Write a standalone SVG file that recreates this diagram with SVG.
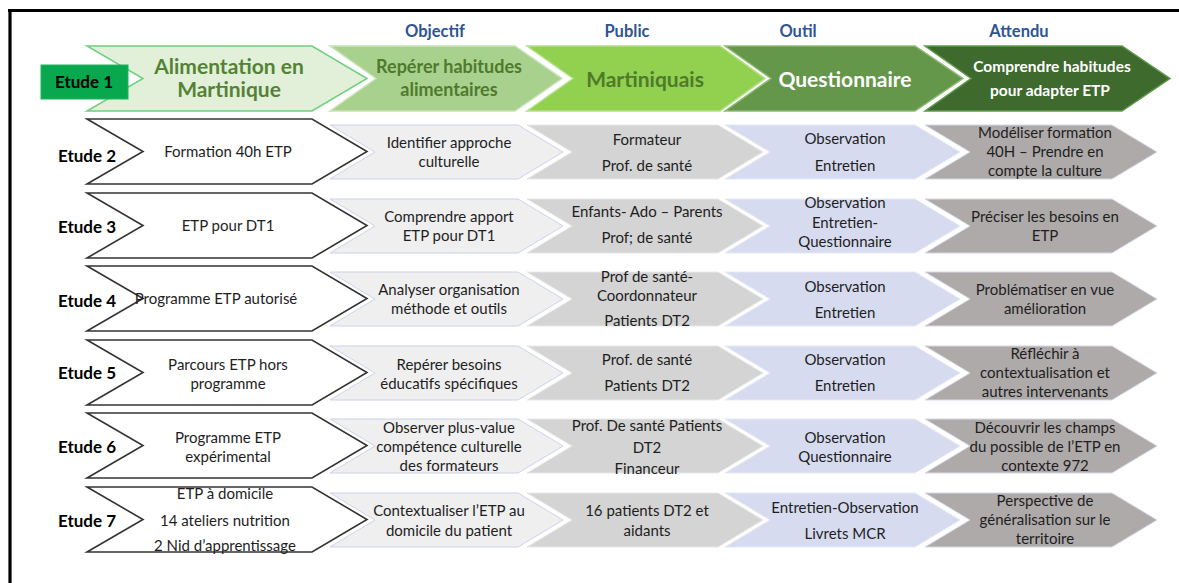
<svg xmlns="http://www.w3.org/2000/svg" width="1179" height="583" viewBox="0 0 1179 583">
<style>
text{font-family:Lato,"Liberation Sans",sans-serif;text-anchor:middle}
.hd{font-size:16.5px;font-weight:bold;fill:#2f5496}
.big{font-size:21px;font-weight:bold}
.et{font-size:17px;font-weight:bold;fill:#000}
.t{font-size:15px;fill:#1e1e1e}
.w{fill:#fff;stroke:#333;stroke-width:1.6}
.ob{fill:#efefef;stroke:#cdd3ea;stroke-width:1}
.pu{fill:#d4d4d4;stroke:#e8e8e8;stroke-width:1}
.ou{fill:#d6dbef;stroke:#e6e9f5;stroke-width:1}
.at{fill:#aeaaaa;stroke:#d6d8e6;stroke-width:1}
</style>
<rect width="1179" height="583" fill="#fff"/>
<g id="frame" stroke="#000" stroke-width="3.2" fill="none">
<line x1="8" y1="10.5" x2="1179" y2="10.5"/>
<line x1="10" y1="9" x2="10" y2="583"/>
</g>
<g id="headers">
<text class="hd" x="435" y="37">Objectif</text>
<text class="hd" x="627" y="37">Public</text>
<text class="hd" x="798" y="37">Outil</text>
<text class="hd" x="1019" y="37">Attendu</text>
</g>
<g id="etude1">
<polygon points="87,46 312,46 367,78.5 312,111 87,111 143,78.5" fill="#e2f0d9" stroke="#6fcf7f" stroke-width="1.5"/>
<text class="big" x="229" y="74" fill="#548235">Alimentation en</text>
<text class="big" x="229" y="97" fill="#548235">Martinique</text>
<rect x="41" y="65" width="87" height="34" fill="#07a84e" stroke="#19b75e" stroke-width="1"/>
<text class="et" x="84" y="88">Etude 1</text>
<polygon points="330,46 515,46 562,78.5 515,111 330,111 376,78.5" fill="#a9d18e" stroke="#c9e4b8" stroke-width="1.5"/>
<text x="449" y="73" font-size="18" font-weight="bold" fill="#4f7a2d">Repérer habitudes</text>
<text x="449" y="96" font-size="18" font-weight="bold" fill="#4f7a2d">alimentaires</text>
<polygon points="527,46 720,46 765,78.5 720,111 527,111 573,78.5" fill="#92d050" stroke="#b5e08a" stroke-width="1.5"/>
<text class="big" x="645" y="87" fill="#4e7a2a">Martiniquais</text>
<polygon points="725,46 915,46 963,78.5 915,111 725,111 771,78.5" fill="#64974a" stroke="#8dbb72" stroke-width="1.5"/>
<text class="big" x="845" y="87" fill="#fff">Questionnaire</text>
<polygon points="925,46 1122,46 1170,78.5 1122,111 925,111 971,78.5" fill="#3f6a2e" stroke="#5f9a4c" stroke-width="1.5"/>
<text x="1052" y="72" font-size="15.5" font-weight="bold" fill="#fff">Comprendre habitudes</text>
<text x="1050" y="96" font-size="15.5" font-weight="bold" fill="#fff">pour adapter ETP</text>
</g>
<g id="etude2">
<text class="et" x="87" y="162">Etude 2</text>
<polygon class="w" points="87,119 312,119 367,151.5 312,184 87,184 143,151.5"/>
<text class="t" x="228" y="157">Formation 40h ETP</text>
<polygon class="ob" points="330,125 518,125 563,152 518,179 330,179 375,152"/>
<text class="t" x="449" y="148">Identifier approche</text>
<text class="t" x="449" y="167">culturelle</text>
<polygon class="pu" points="527,125 718,125 763,152 718,179 527,179 572,152"/>
<text class="t" x="647" y="145">Formateur</text>
<text class="t" x="647" y="171">Prof. de santé</text>
<polygon class="ou" points="725,125 915,125 960,152 915,179 725,179 770,152"/>
<text class="t" x="845" y="144">Observation</text>
<text class="t" x="845" y="171">Entretien</text>
<polygon class="at" points="925,125 1112,125 1157,152 1112,179 925,179 970,152"/>
<text class="t" x="1045" y="138">Modéliser formation</text>
<text class="t" x="1045" y="157">40H – Prendre en</text>
<text class="t" x="1045" y="176">compte la culture</text>
</g>
<g id="etude3">
<text class="et" x="87" y="233">Etude 3</text>
<polygon class="w" points="87,193 312,193 367,225.5 312,258 87,258 143,225.5"/>
<text class="t" x="228" y="231">ETP pour DT1</text>
<polygon class="ob" points="330,199 518,199 563,226 518,253 330,253 375,226"/>
<text class="t" x="449" y="222">Comprendre apport</text>
<text class="t" x="449" y="241">ETP pour DT1</text>
<polygon class="pu" points="527,199 718,199 763,226 718,253 527,253 572,226"/>
<text class="t" x="647" y="217">Enfants- Ado – Parents</text>
<text class="t" x="647" y="243">Prof; de santé</text>
<polygon class="ou" points="725,199 915,199 960,226 915,253 725,253 770,226"/>
<text class="t" x="845" y="208">Observation</text>
<text class="t" x="845" y="228">Entretien-</text>
<text class="t" x="845" y="247">Questionnaire</text>
<polygon class="at" points="925,199 1112,199 1157,226 1112,253 925,253 970,226"/>
<text class="t" x="1045" y="222">Préciser les besoins en</text>
<text class="t" x="1045" y="241">ETP</text>
</g>
<g id="etude4">
<text class="et" x="87" y="307">Etude 4</text>
<polygon class="w" points="87,266 312,266 367,298.5 312,331 87,331 143,298.5"/>
<text class="t" x="216" y="304">Programme ETP autorisé</text>
<polygon class="ob" points="330,272 518,272 563,299 518,326 330,326 375,299"/>
<text class="t" x="449" y="295">Analyser organisation</text>
<text class="t" x="449" y="314">méthode et outils</text>
<polygon class="pu" points="527,272 718,272 763,299 718,326 527,326 572,299"/>
<text class="t" x="647" y="282">Prof de santé-</text>
<text class="t" x="647" y="301">Coordonnateur</text>
<text class="t" x="647" y="326">Patients DT2</text>
<polygon class="ou" points="725,272 915,272 960,299 915,326 725,326 770,299"/>
<text class="t" x="845" y="292">Observation</text>
<text class="t" x="845" y="318">Entretien</text>
<polygon class="at" points="925,272 1112,272 1157,299 1112,326 925,326 970,299"/>
<text class="t" x="1045" y="295">Problématiser en vue</text>
<text class="t" x="1045" y="314">amélioration</text>
</g>
<g id="etude5">
<text class="et" x="87" y="379">Etude 5</text>
<polygon class="w" points="87,340 312,340 367,372.5 312,405 87,405 143,372.5"/>
<text class="t" x="228" y="370">Parcours ETP hors</text>
<text class="t" x="228" y="389">programme</text>
<polygon class="ob" points="330,346 518,346 563,373 518,400 330,400 375,373"/>
<text class="t" x="449" y="370">Repérer besoins</text>
<text class="t" x="449" y="389">éducatifs spécifiques</text>
<polygon class="pu" points="527,346 718,346 763,373 718,400 527,400 572,373"/>
<text class="t" x="647" y="365">Prof. de santé</text>
<text class="t" x="647" y="391">Patients DT2</text>
<polygon class="ou" points="725,346 915,346 960,373 915,400 725,400 770,373"/>
<text class="t" x="845" y="365">Observation</text>
<text class="t" x="845" y="391">Entretien</text>
<polygon class="at" points="925,346 1112,346 1157,373 1112,400 925,400 970,373"/>
<text class="t" x="1045" y="359">Réfléchir à</text>
<text class="t" x="1045" y="378">contextualisation et</text>
<text class="t" x="1045" y="397">autres intervenants</text>
</g>
<g id="etude6">
<text class="et" x="87" y="453">Etude 6</text>
<polygon class="w" points="87,413 312,413 367,445.5 312,478 87,478 143,445.5"/>
<text class="t" x="228" y="443">Programme ETP</text>
<text class="t" x="228" y="462">expérimental</text>
<polygon class="ob" points="330,419 518,419 563,446 518,473 330,473 375,446"/>
<text class="t" x="449" y="433">Observer plus-value</text>
<text class="t" x="449" y="452">compétence culturelle</text>
<text class="t" x="449" y="471">des formateurs</text>
<polygon class="pu" points="527,419 718,419 763,446 718,473 527,473 572,446"/>
<text class="t" x="647" y="431">Prof. De santé Patients</text>
<text class="t" x="647" y="453">DT2</text>
<text class="t" x="647" y="474">Financeur</text>
<polygon class="ou" points="725,419 915,419 960,446 915,473 725,473 770,446"/>
<text class="t" x="845" y="443">Observation</text>
<text class="t" x="845" y="462">Questionnaire</text>
<polygon class="at" points="925,419 1112,419 1157,446 1112,473 925,473 970,446"/>
<text class="t" x="1045" y="433">Découvrir les champs</text>
<text class="t" x="1045" y="452">du possible de l’ETP en</text>
<text class="t" x="1045" y="471">contexte 972</text>
</g>
<g id="etude7">
<text class="et" x="87" y="527">Etude 7</text>
<polygon class="w" points="87,487 312,487 367,519.5 312,552 87,552 143,519.5"/>
<text class="t" x="225" y="499">ETP à domicile</text>
<text class="t" x="225" y="526">14 ateliers nutrition</text>
<text class="t" x="225" y="551">2 Nid d’apprentissage</text>
<polygon class="ob" points="330,493 518,493 563,520 518,547 330,547 375,520"/>
<text class="t" x="449" y="516">Contextualiser l’ETP au</text>
<text class="t" x="449" y="536">domicile du patient</text>
<polygon class="pu" points="527,493 718,493 763,520 718,547 527,547 572,520"/>
<text class="t" x="647" y="516">16 patients DT2 et</text>
<text class="t" x="647" y="536">aidants</text>
<polygon class="ou" points="725,493 915,493 960,520 915,547 725,547 770,520"/>
<text class="t" x="845" y="513">Entretien-Observation</text>
<text class="t" x="845" y="539">Livrets MCR</text>
<polygon class="at" points="925,493 1112,493 1157,520 1112,547 925,547 970,520"/>
<text class="t" x="1045" y="506">Perspective de</text>
<text class="t" x="1045" y="525">généralisation sur le</text>
<text class="t" x="1045" y="544">territoire</text>
</g>
</svg>
